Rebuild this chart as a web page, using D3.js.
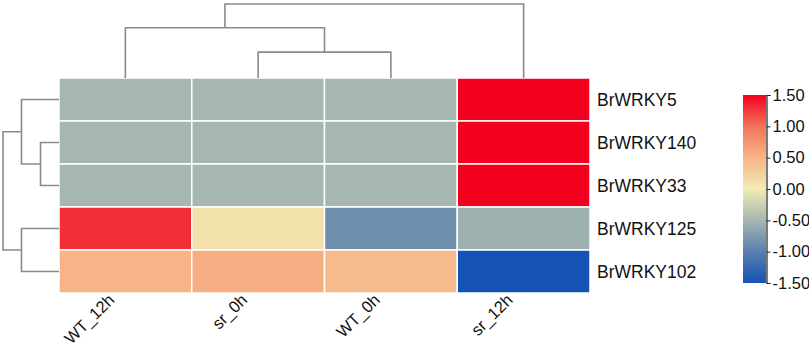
<!DOCTYPE html>
<html>
<head>
<meta charset="utf-8">
<script src="https://cdn.jsdelivr.net/npm/d3@7"></script>
<style>
  body { margin: 0; background: #fff; }
  text { font-family: "Liberation Sans", Arial, sans-serif; }
</style>
</head>
<body>
<script>
// columns and rows in clustered order
var samples = ["WT_12h", "sr_0h", "WT_0h", "sr_12h"];
var genes = ["BrWRKY5", "BrWRKY140", "BrWRKY33", "BrWRKY125", "BrWRKY102"];

// row z-scores, one array per gene (same order as samples)
var vBrWRKY5   = [-0.5, -0.5, -0.5, 1.5];
var vBrWRKY140 = [-0.5, -0.5, -0.5, 1.5];
var vBrWRKY33  = [-0.5, -0.5, -0.5, 1.5];
var vBrWRKY125 = [1.3, 0.1, -0.85, -0.55];
var vBrWRKY102 = [0.5, 0.55, 0.45, -1.5];
var values = [vBrWRKY5, vBrWRKY140, vBrWRKY33, vBrWRKY125, vBrWRKY102];

// dendrograms: [left, right, merge height] (height relative to root = 1)
var colTree = [["WT_12h", ["sr_0h", "WT_0h", 0.35], 0.68], "sr_12h", 1.0];
var rowTree = [["BrWRKY5", ["BrWRKY140", "BrWRKY33", 0.33], 0.67], ["BrWRKY125", "BrWRKY102", 0.67], 1.0];

// legend
var legendTicks = [-1.5, -1.0, -0.5, 0, 0.5, 1.0, 1.5];
var colorStops = [-1.5, -1.0, -0.5, 0, 0.5, 1.0, 1.5];
var colorRange = ["#1553b6", "#5a7fae", "#a6b6b1", "#f1ecb3", "#f8b487", "#f3735a", "#f4001f"];

var W = 809, H = 354;
var svg = d3.select("body").append("svg")
    .attr("width", W)
    .attr("height", H);

var color = d3.scaleLinear().domain(colorStops).range(colorRange).clamp(true);

var x = d3.scaleBand().domain(samples).range([59, 590]);
var y = d3.scaleBand().domain(genes).range([78, 293]);

// cells
var rows = svg.append("g").selectAll("g")
    .data(values)
    .enter().append("g");

rows.selectAll("rect")
    .data(function(d, i) { return d.map(function(v, j) { return {gene: genes[i], sample: samples[j], v: v}; }); })
    .enter().append("rect")
    .attr("x", function(d) { return x(d.sample); })
    .attr("y", function(d) { return y(d.gene); })
    .attr("width", x.bandwidth())
    .attr("height", y.bandwidth())
    .attr("fill", function(d) { return color(d.v); })
    .attr("stroke", "#fff")
    .attr("stroke-width", 1.5);

// row labels
svg.append("g").selectAll("text")
    .data(genes)
    .enter().append("text")
    .attr("x", 597)
    .attr("y", function(d) { return y(d) + y.bandwidth() / 2; })
    .attr("dy", "0.36em")
    .style("font-size", "17.5px")
    .attr("fill", "#111")
    .text(function(d) { return d; });

// column labels, rotated 45
svg.append("g").selectAll("text")
    .data(samples)
    .enter().append("text")
    .attr("text-anchor", "end")
    .attr("transform", function(d) {
        return "translate(" + (x(d) + x.bandwidth() / 2 - 10) + ",301) rotate(-45)";
    })
    .style("font-size", "16.5px")
    .attr("fill", "#111")
    .text(function(d) { return d; });

// dendrograms
var hTop = d3.scaleLinear().domain([0, 1]).range([78, 4]);
var hLeft = d3.scaleLinear().domain([0, 1]).range([59, 3]);

// returns {pos, h} of node and draws its links
function drawTree(node, g, leafPos, hScale, vertical) {
    if (typeof node === "string") return {pos: leafPos(node), h: 0};
    var a = drawTree(node[0], g, leafPos, hScale, vertical);
    var b = drawTree(node[1], g, leafPos, hScale, vertical);
    var h = node[2];
    var pts = [[a.pos, hScale(a.h)], [a.pos, hScale(h)], [b.pos, hScale(h)], [b.pos, hScale(b.h)]];
    if (!vertical) pts = pts.map(function(p) { return [p[1], p[0]]; });
    g.append("path")
        .attr("d", d3.line()(pts))
        .attr("fill", "none")
        .attr("stroke", "#8a8a8a")
        .attr("stroke-width", 1.6);
    return {pos: (a.pos + b.pos) / 2, h: h};
}

drawTree(colTree, svg.append("g"), function(d) { return x(d) + x.bandwidth() / 2; }, hTop, true);
drawTree(rowTree, svg.append("g"), function(d) { return y(d) + y.bandwidth() / 2; }, hLeft, false);

// color legend
var ly = d3.scaleLinear().domain([-1.5, 1.5]).range([283, 95]);
var grad = svg.append("defs").append("linearGradient")
    .attr("id", "lg")
    .attr("x1", 0).attr("y1", 1).attr("x2", 0).attr("y2", 0);
grad.selectAll("stop")
    .data(colorStops)
    .enter().append("stop")
    .attr("offset", function(d) { return (d + 1.5) / 3; })
    .attr("stop-color", function(d) { return color(d); });

svg.append("rect")
    .attr("x", 743)
    .attr("y", ly(1.5))
    .attr("width", 23)
    .attr("height", ly(-1.5) - ly(1.5))
    .attr("fill", "url(#lg)");

var legendAxis = d3.axisRight(ly)
    .tickValues(legendTicks)
    .tickSize(4)
    .tickPadding(2)
    .tickFormat(function(d) { return d.toFixed(2); });

var la = svg.append("g")
    .attr("transform", "translate(766.5,0)")
    .call(legendAxis);
la.select(".domain").attr("stroke", "#222").attr("stroke-width", 1.2);
la.selectAll(".tick line").attr("stroke", "#222");
la.selectAll(".tick text")
    .style("font-size", "16.5px")
    .style("font-family", "Liberation Sans, Arial, sans-serif")
    .attr("fill", "#111");
</script>
</body>
</html>
